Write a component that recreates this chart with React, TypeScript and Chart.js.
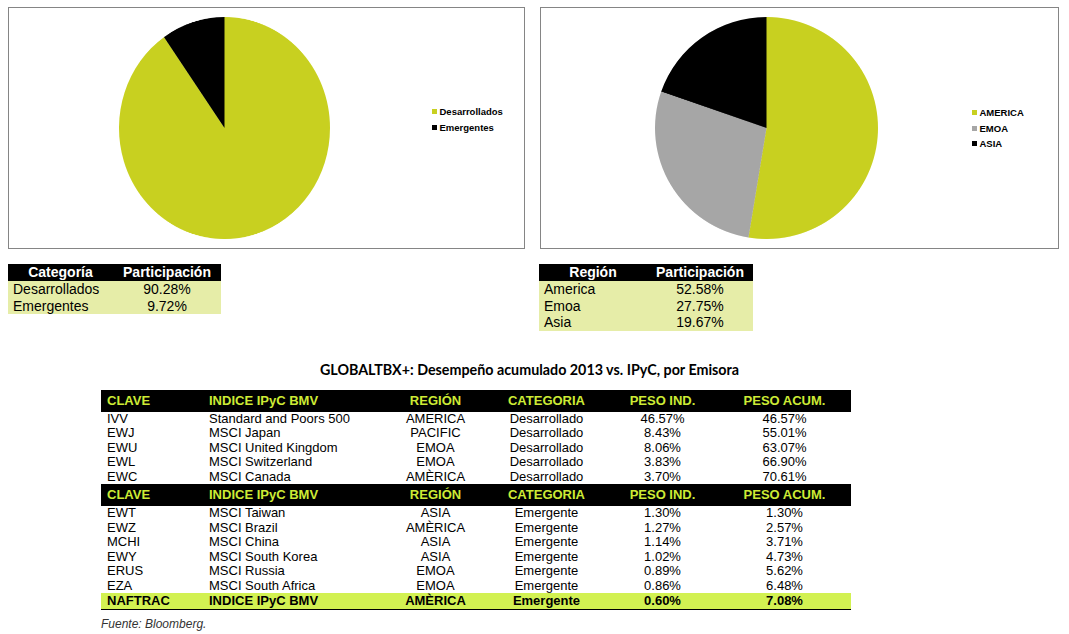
import React, { useEffect, useRef } from "react";
import { Chart, registerables } from "chart.js";

Chart.register(...registerables);

// ---- Data ----
const categoryLabels = ["Desarrollados", "Emergentes"];
const categoryValues = [90.28, 9.72];
const categoryColors = ["#C8D020", "#000000"];

const regionLegendLabels = ["AMERICA", "EMOA", "ASIA"];
const regionTableLabels = ["America", "Emoa", "Asia"];
const regionValues = [52.58, 27.75, 19.67];
const regionColors = ["#C8D020", "#A6A6A6", "#000000"];

const tableTitle = "GLOBALTBX+: Desempeño acumulado 2013 vs. IPyC, por Emisora";
const headerLabels = ["CLAVE", "INDICE IPyC BMV", "REGIÓN", "CATEGORIA", "PESO IND.", "PESO ACUM."];

const devClaves = ["IVV", "EWJ", "EWU", "EWL", "EWC"];
const devIndices = ["Standard and Poors 500", "MSCI Japan", "MSCI United Kingdom", "MSCI Switzerland", "MSCI Canada"];
const devRegiones = ["AMERICA", "PACIFIC", "EMOA", "EMOA", "AMÈRICA"];
const devCategorias = ["Desarrollado", "Desarrollado", "Desarrollado", "Desarrollado", "Desarrollado"];
const devPesoInd = [46.57, 8.43, 8.06, 3.83, 3.7];
const devPesoAcum = [46.57, 55.01, 63.07, 66.9, 70.61];

const emClaves = ["EWT", "EWZ", "MCHI", "EWY", "ERUS", "EZA"];
const emIndices = ["MSCI Taiwan", "MSCI Brazil", "MSCI China", "MSCI South Korea", "MSCI Russia", "MSCI South Africa"];
const emRegiones = ["ASIA", "AMÈRICA", "ASIA", "ASIA", "EMOA", "EMOA"];
const emCategorias = ["Emergente", "Emergente", "Emergente", "Emergente", "Emergente", "Emergente"];
const emPesoInd = [1.3, 1.27, 1.14, 1.02, 0.89, 0.86];
const emPesoAcum = [1.3, 2.57, 3.71, 4.73, 5.62, 6.48];

const benchRow = ["NAFTRAC", "INDICE IPyC BMV", "AMÈRICA", "Emergente"];
const benchPesoInd = 0.6;
const benchPesoAcum = 7.08;

const sourceText = "Fuente: Bloomberg.";

// ---- Styles ----
const ARIAL = "'Liberation Sans', Arial, sans-serif";
const HEADER_GREEN = "#CDEB35";
const SMALL_BG = "#E6EDA8";
const BENCH_BG = "#D2F152";

const pct = (v: number) => v.toFixed(2) + "%";

function PieCanvas(props: {
  labels: string[];
  values: number[];
  colors: string[];
  left: number;
  top: number;
  w: number;
  h: number;
  size: number;
}) {
  const ref = useRef<HTMLCanvasElement | null>(null);
  useEffect(() => {
    if (!ref.current) return;
    const chart = new Chart(ref.current, {
      type: "pie",
      data: {
        labels: props.labels,
        datasets: [
          {
            data: props.values,
            backgroundColor: props.colors,
            borderWidth: 0,
          },
        ],
      },
      options: {
        animation: false,
        responsive: false,
        devicePixelRatio: 2,
        layout: { padding: 0 },
        plugins: { legend: { display: false }, tooltip: { enabled: false } },
      },
    });
    return () => chart.destroy();
  }, []);
  return (
    <canvas
      ref={ref}
      width={props.size}
      height={props.size}
      style={{
        position: "absolute",
        left: props.left,
        top: props.top,
        width: props.w + "px",
        height: props.h + "px",
      }}
    />
  );
}

function Legend(props: { labels: string[]; colors: string[]; left: number; top: number; pitch: number }) {
  return (
    <div style={{ position: "absolute", left: props.left, top: props.top }}>
      {props.labels.map((l, i) => (
        <div
          key={l}
          style={{
            position: "absolute",
            left: 0,
            top: i * props.pitch,
            height: 12,
            display: "flex",
            alignItems: "center",
            whiteSpace: "nowrap",
            font: `bold 9.5px ${ARIAL}`,
            color: "#000",
          }}
        >
          <span style={{ display: "inline-block", width: 5, height: 5, background: props.colors[i], marginRight: 3 }} />
          {l}
        </div>
      ))}
    </div>
  );
}

function SmallTable(props: {
  left: number;
  top: number;
  widths: number[];
  headers: string[];
  labels: string[];
  values: number[];
}) {
  const total = props.widths[0] + props.widths[1];
  const rowH = 16.7;
  return (
    <div style={{ position: "absolute", left: props.left, top: props.top, width: total }}>
      <div style={{ display: "flex", height: 17, background: "#000", color: "#fff", font: `bold 14px ${ARIAL}` }}>
        {props.headers.map((h, i) => (
          <div key={h} style={{ width: props.widths[i], textAlign: "center", lineHeight: "17px" }}>
            {h}
          </div>
        ))}
      </div>
      {props.labels.map((l, i) => (
        <div key={l} style={{ display: "flex", height: rowH, background: SMALL_BG, font: `14px ${ARIAL}`, color: "#000" }}>
          <div style={{ width: props.widths[0], paddingLeft: 5, boxSizing: "border-box", lineHeight: rowH + "px" }}>{l}</div>
          <div style={{ width: props.widths[1], textAlign: "center", lineHeight: rowH + "px" }}>{pct(props.values[i])}</div>
        </div>
      ))}
    </div>
  );
}

const COLS = [102, 182, 101, 121, 111, 133];
const ALIGN: ("left" | "center")[] = ["left", "left", "center", "center", "center", "center"];

function Row(props: { cells: string[]; top: number; h: number; bold?: boolean; bg?: string; color?: string; size?: number; extra?: any }) {
  return (
    <div
      style={{
        position: "absolute",
        left: 0,
        top: props.top,
        height: props.h,
        width: 750,
        display: "flex",
        background: props.bg || "transparent",
        color: props.color || "#000",
        font: `${props.bold ? "bold " : ""}${props.size || 13}px ${ARIAL}`,
        ...(props.extra || {}),
      }}
    >
      {props.cells.map((c, i) => (
        <div
          key={i}
          style={{
            width: COLS[i],
            textAlign: ALIGN[i],
            paddingLeft: ALIGN[i] === "left" ? 6 : 0,
            boxSizing: "border-box",
            lineHeight: props.h + "px",
            whiteSpace: "nowrap",
          }}
        >
          {c}
        </div>
      ))}
    </div>
  );
}

function BigTable() {
  const baseTop = 390;
  const hdrH = 22;
  const devH = 14.4;
  const emH = 14.5;
  const devTop = hdrH;
  const hdr2Top = devTop + devClaves.length * devH;
  const emTop = hdr2Top + hdrH;
  const benchTop = emTop + emClaves.length * emH;
  return (
    <div style={{ position: "absolute", left: 101, top: baseTop, width: 750 }}>
      <Row cells={headerLabels} top={0} h={hdrH} bold bg="#000" color={HEADER_GREEN} />
      {devClaves.map((c, i) => (
        <Row
          key={c}
          top={devTop + i * devH}
          h={devH}
          cells={[c, devIndices[i], devRegiones[i], devCategorias[i], pct(devPesoInd[i]), pct(devPesoAcum[i])]}
        />
      ))}
      <Row cells={headerLabels} top={hdr2Top} h={hdrH} bold bg="#000" color={HEADER_GREEN} />
      {emClaves.map((c, i) => (
        <Row
          key={c}
          top={emTop + i * emH}
          h={emH}
          cells={[c, emIndices[i], emRegiones[i], emCategorias[i], pct(emPesoInd[i]), pct(emPesoAcum[i])]}
        />
      ))}
      <Row
        top={benchTop}
        h={16}
        bold
        bg={BENCH_BG}
        cells={[...benchRow, pct(benchPesoInd), pct(benchPesoAcum)]}
        extra={{ borderBottom: "1.5px solid #000" }}
      />
    </div>
  );
}

export default function App() {
  return (
    <div style={{ position: "absolute", left: 0, top: 0, width: 1069, height: 634, background: "#fff", overflow: "hidden" }}>
      {/* chart boxes */}
      <div style={{ position: "absolute", left: 8, top: 7, width: 517, height: 242, border: "1px solid #858585", boxSizing: "border-box" }} />
      <div style={{ position: "absolute", left: 540, top: 7, width: 519, height: 242, border: "1px solid #858585", boxSizing: "border-box" }} />

      <PieCanvas labels={categoryLabels} values={categoryValues} colors={categoryColors} left={119.3} top={17} w={210.6} h={222.4} size={211} />
      <Legend labels={categoryLabels} colors={categoryColors} left={431.5} top={105.7} pitch={16} />

      <PieCanvas labels={regionLegendLabels} values={regionValues} colors={regionColors} left={655.3} top={16.8} w={223} h={222.6} size={223} />
      <Legend labels={regionLegendLabels} colors={regionColors} left={971.5} top={106.7} pitch={15.5} />

      <SmallTable left={8} top={264} widths={[105, 108]} headers={["Categoría", "Participación"]} labels={categoryLabels} values={categoryValues} />
      <SmallTable left={539} top={264} widths={[108, 106]} headers={["Región", "Participación"]} labels={regionTableLabels} values={regionValues} />

      <div
        style={{
          position: "absolute",
          left: 0,
          width: 1059,
          top: 361,
          textAlign: "center",
          font: `bold 14.3px Lato, 'Open Sans', sans-serif`,
          color: "#000",
          whiteSpace: "nowrap",
        }}
      >
        {tableTitle}
      </div>

      <BigTable />

      <div style={{ position: "absolute", left: 101, top: 617, font: `italic 12px ${ARIAL}`, color: "#333" }}>{sourceText}</div>
    </div>
  );
}
